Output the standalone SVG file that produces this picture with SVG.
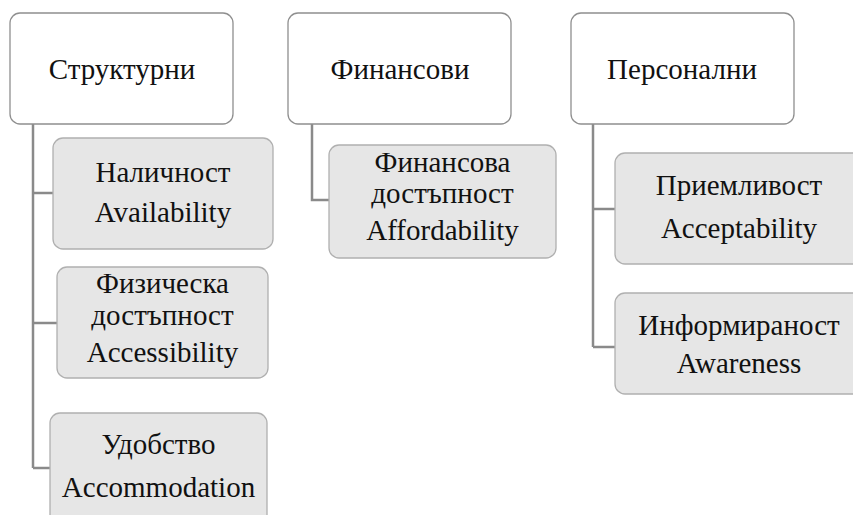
<svg xmlns="http://www.w3.org/2000/svg" width="853" height="515" viewBox="0 0 853 515">
<defs>
<rect id="topbox" width="223" height="111" rx="10" fill="#ffffff" stroke="#8f8f8f" stroke-width="1.3"/>
</defs>
<rect width="853" height="515" fill="#ffffff"/>
<g id="connectors" fill="none" stroke="#8a8a8a" stroke-width="2.5">
<path d="M33 124 V468 M33 193 H53 M33 323 H57 M33 468 H50"/>
<path d="M312 124 V200 H329"/>
<path d="M593 124 V347 M593 209 H615 M593 347 H615"/>
</g>
<g id="nodes" font-family="Liberation Serif" font-size="29" fill="#111111" text-anchor="middle">
<g id="n-struct"><use href="#topbox" x="10" y="13"/><text x="122" y="79">Структурни</text></g>
<g id="n-fin"><use href="#topbox" x="288" y="13"/><text x="400" y="79">Финансови</text></g>
<g id="n-pers"><use href="#topbox" x="571" y="13"/><text x="682" y="79">Персонални</text></g>
<g id="subs">
<g id="n-avail"><rect x="53" y="138" width="220" height="111" rx="10" fill="#e6e6e6" stroke="#b0b0b0" stroke-width="1.3"/><text x="163" y="182">Наличност</text><text x="163" y="222">Availability</text></g>
<g id="n-access"><rect x="57" y="267" width="211" height="111" rx="10" fill="#e6e6e6" stroke="#b0b0b0" stroke-width="1.3"/><text x="162.5" y="293">Физическа</text><text x="162.5" y="325">достъпност</text><text x="162.5" y="362">Accessibility</text></g>
<g id="n-accom"><rect x="50" y="413" width="217" height="130" rx="10" fill="#e6e6e6" stroke="#b0b0b0" stroke-width="1.3"/><text x="158.5" y="454">Удобство</text><text x="158.5" y="497">Accommodation</text></g>
<g id="n-afford"><rect x="329" y="145" width="227" height="113" rx="10" fill="#e6e6e6" stroke="#b0b0b0" stroke-width="1.3"/><text x="442.5" y="172">Финансова</text><text x="442.5" y="203">достъпност</text><text x="442.5" y="240">Affordability</text></g>
<g id="n-accept"><rect x="615" y="153" width="248" height="111" rx="10" fill="#e6e6e6" stroke="#b0b0b0" stroke-width="1.3"/><text x="739" y="195">Приемливост</text><text x="739" y="238">Acceptability</text></g>
<g id="n-aware"><rect x="615" y="293" width="248" height="101" rx="10" fill="#e6e6e6" stroke="#b0b0b0" stroke-width="1.3"/><text x="739" y="335">Информираност</text><text x="739" y="373">Awareness</text></g>
</g>
</g>
</svg>
